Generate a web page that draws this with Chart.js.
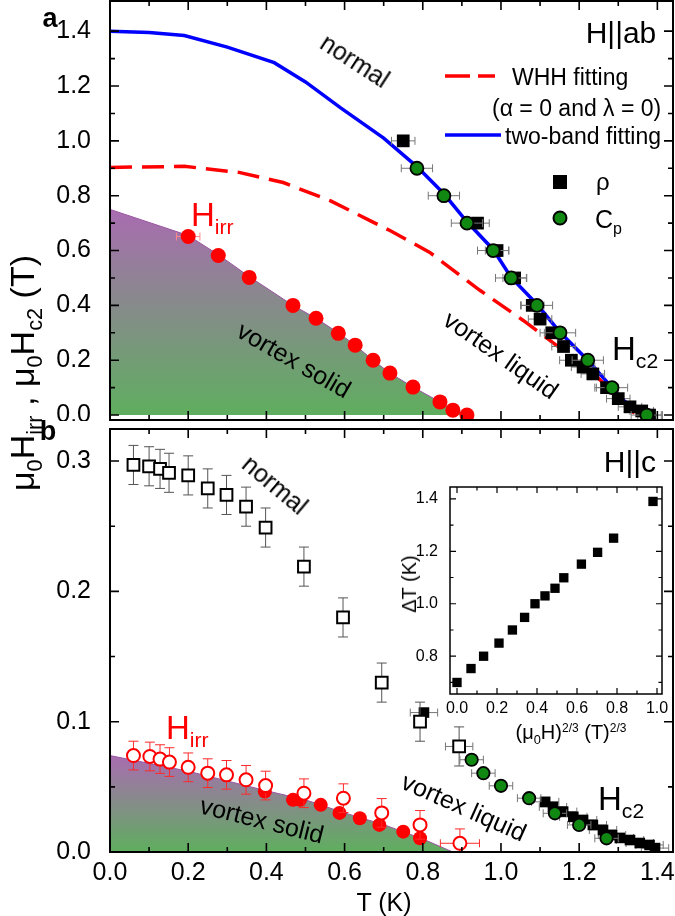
<!DOCTYPE html>
<html>
<head>
<meta charset="utf-8">
<script src="https://cdn.jsdelivr.net/npm/chart.js@4.4.1/dist/chart.umd.min.js"></script>
<style>
  body { margin: 0; background: #fff; }
  #wrap { position: relative; width: 675px; height: 916px; overflow: hidden; font-family: "Liberation Sans", Arial, sans-serif; }
  #wrap canvas { position: absolute; }
  .txt { position: absolute; white-space: nowrap; line-height: 1; }
  .sb { font-size: 0.64em; position: relative; top: 0.38em; }
  .sp { font-size: 0.6em; position: relative; top: -0.62em; }
</style>
</head>
<body>
<div id="wrap">
  <canvas id="chartA" width="675" height="421" style="left:0;top:0;width:675px;height:421px"></canvas>
  <canvas id="chartB" width="675" height="488" style="left:0;top:428px;width:675px;height:488px"></canvas>
  <canvas id="inset" width="295" height="240" style="left:380px;top:480px;width:295px;height:240px"></canvas>
</div>
<script>
// ---- panel a (H || ab) ----
const twoBandT = [0, 0.1, 0.19, 0.3, 0.42, 0.5, 0.59, 0.7, 0.785, 0.854, 0.913, 0.98, 1.026, 1.092, 1.151, 1.222, 1.284, 1.312, 1.338, 1.36, 1.375];
const twoBandH = [1.40, 1.395, 1.384, 1.342, 1.285, 1.215, 1.12, 1.01, 0.906, 0.807, 0.705, 0.604, 0.502, 0.404, 0.302, 0.2, 0.1, 0.055, 0.025, 0.008, 0.0];
const whhT = [0, 0.19, 0.33, 0.443, 0.563, 0.665, 0.716, 0.818, 0.946, 1.057, 1.159, 1.245, 1.338, 1.35];
const whhH = [0.903, 0.907, 0.885, 0.848, 0.782, 0.709, 0.673, 0.593, 0.455, 0.345, 0.236, 0.14, 0.011, 0.0];
const rhoAT = [0.75, 0.94, 0.99, 1.035, 1.08, 1.10, 1.13, 1.16, 1.18, 1.21, 1.235, 1.27, 1.30, 1.33, 1.36, 1.38];
const rhoAH = [1.0, 0.70, 0.60, 0.50, 0.40, 0.35, 0.30, 0.25, 0.20, 0.175, 0.15, 0.10, 0.06, 0.03, 0.015, 0.0];
const cpAT = [0.785, 0.854, 0.913, 0.98, 1.026, 1.092, 1.151, 1.222, 1.284, 1.373];
const cpAH = [0.9, 0.8, 0.7, 0.6, 0.5, 0.4, 0.3, 0.2, 0.1, 0.0];
const irrAT = [0.2, 0.277, 0.356, 0.468, 0.527, 0.584, 0.627, 0.673, 0.716, 0.775, 0.844, 0.877, 0.913];
const irrAH = [0.651, 0.582, 0.502, 0.40, 0.353, 0.298, 0.255, 0.20, 0.153, 0.102, 0.048, 0.018, 0.0];
const irrAErr = [0.03, 0, 0, 0, 0, 0, 0, 0, 0, 0, 0, 0, 0];
const solidAT = [0, 0.2, 0.277, 0.356, 0.468, 0.527, 0.584, 0.627, 0.673, 0.716, 0.775, 0.844, 0.877, 0.92];
const solidAH = [0.75, 0.655, 0.585, 0.505, 0.40, 0.353, 0.30, 0.255, 0.20, 0.153, 0.102, 0.048, 0.018, 0.0];
const rhoAErr = 0.03;
const cpAErr = 0.04;

// ---- panel b (H || c) ----
const hc2BT = [0.06, 0.10, 0.128, 0.151, 0.20, 0.25, 0.298, 0.348, 0.398, 0.496, 0.596, 0.695, 0.793, 0.893];
const hc2BH = [0.297, 0.296, 0.294, 0.291, 0.289, 0.279, 0.274, 0.265, 0.249, 0.219, 0.18, 0.13, 0.10, 0.081];
const hc2BErr = 0.015;
const rhoBT = [0.803, 0.893, 1.113, 1.133, 1.159, 1.185, 1.21, 1.235, 1.261, 1.284, 1.304, 1.33, 1.355, 1.38, 1.394];
const rhoBH = [0.107, 0.081, 0.0385, 0.0346, 0.031, 0.027, 0.0246, 0.0208, 0.0169, 0.013, 0.0108, 0.0092, 0.0069, 0.0054, 0.003];
const rhoBErr = 0.035;
const cpBT = [0.925, 0.955, 1.0, 1.072, 1.138, 1.2, 1.27];
const cpBH = [0.0708, 0.0605, 0.0508, 0.0413, 0.0297, 0.0208, 0.0105];
const cpBErr = 0.03;
const irrOpenBT = [0.06, 0.102, 0.128, 0.152, 0.2, 0.25, 0.298, 0.348, 0.398, 0.496, 0.597, 0.695, 0.793, 0.895];
const irrOpenBH = [0.074, 0.0733, 0.0713, 0.069, 0.065, 0.0605, 0.0592, 0.0554, 0.051, 0.0451, 0.0413, 0.030, 0.0208, 0.0067];
const irrOpenBErrY = 0.011;
const irrOpenBErrX = [0, 0, 0, 0, 0, 0, 0, 0, 0, 0, 0, 0, 0, 0.05];
const irrFillBT = [0.396, 0.468, 0.486, 0.539, 0.587, 0.639, 0.689, 0.75, 0.793];
const irrFillBH = [0.0464, 0.040, 0.040, 0.0362, 0.030, 0.0259, 0.0208, 0.0156, 0.0105];
const solidBT = [0, 0.2, 0.4, 0.5, 0.6, 0.7, 0.8, 0.877];
const solidBH = [0.074, 0.062, 0.047, 0.040, 0.030, 0.021, 0.010, 0.0];

// ---- inset ----
const insetX = [0, 0.07, 0.133, 0.21, 0.277, 0.338, 0.39, 0.44, 0.49, 0.534, 0.622, 0.703, 0.783, 0.98];
const insetY = [0.70, 0.753, 0.80, 0.85, 0.90, 0.948, 1.0, 1.03, 1.059, 1.099, 1.151, 1.196, 1.25, 1.39];

// ---- ticks ----
const tMajor = [0, 0.2, 0.4, 0.6, 0.8, 1.0, 1.2, 1.4];
const tMinor = [0.1, 0.3, 0.5, 0.7, 0.9, 1.1, 1.3];
const aMajor = [0, 0.2, 0.4, 0.6, 0.8, 1.0, 1.2, 1.4];
const aMinor = [0.1, 0.3, 0.5, 0.7, 0.9, 1.1, 1.3];
const bMajor = [0, 0.1, 0.2, 0.3];
const bMinor = [0.05, 0.15, 0.25];
const insXMajor = [0, 0.2, 0.4, 0.6, 0.8, 1.0];
const insXMinor = [0.1, 0.3, 0.5, 0.7, 0.9];
const insYMajor = [0.8, 1.0, 1.2, 1.4];
const insYMinor = [0.7, 0.9, 1.1, 1.3];

const FONT = '"Liberation Sans", Arial, sans-serif';
Chart.defaults.font.family = FONT;
Chart.defaults.color = '#000';

const pts = (xs, ys) => xs.map((x, i) => ({ x, y: ys[i] }));

function phaseFill(topVal) {
  return (c) => {
    const ch = c.chart;
    if (!ch.chartArea) return 'rgba(0,0,0,0)';
    const y = ch.scales.y;
    const g = ch.ctx.createLinearGradient(0, y.getPixelForValue(topVal), 0, y.getPixelForValue(0));
    g.addColorStop(0, '#a96cb1');
    g.addColorStop(1, '#5fae5f');
    return g;
  };
}

function xAxis(major, min, max, height, size, pad) {
  return {
    type: 'linear', position: 'bottom', min, max,
    grid: { display: false }, border: { display: false },
    ticks: { display: size > 0, autoSkip: false, maxRotation: 0, padding: pad, font: { size: size || 10 }, callback: v => v.toFixed(1) },
    afterBuildTicks: s => { s.ticks = major.map(v => ({ value: v })); },
    afterFit: s => { s.height = height; s.paddingLeft = 0; s.paddingRight = 0; s.paddingTop = 0; s.paddingBottom = 0; }
  };
}
function yAxis(major, min, max, width, size, pad) {
  return {
    type: 'linear', position: 'left', min, max,
    grid: { display: false }, border: { display: false },
    ticks: { autoSkip: false, padding: pad, font: { size }, callback: v => v.toFixed(1) },
    afterBuildTicks: s => { s.ticks = major.map(v => ({ value: v })); },
    afterFit: s => { s.width = width; s.paddingLeft = 0; s.paddingRight = 0; s.paddingTop = 0; s.paddingBottom = 0; }
  };
}

const framePlugin = {
  id: 'frame',
  afterDatasetsDraw(chart, args, o) {
    const { ctx, chartArea: a } = chart;
    const xs = chart.scales.x, ys = chart.scales.y;
    ctx.save();
    ctx.strokeStyle = '#000';
    ctx.lineWidth = o.tickWidth;
    ctx.beginPath();
    const vTick = (vals, len) => vals.forEach(v => {
      const px = xs.getPixelForValue(v);
      ctx.moveTo(px, a.bottom); ctx.lineTo(px, a.bottom - len);
      ctx.moveTo(px, a.top); ctx.lineTo(px, a.top + len);
    });
    const hTick = (vals, len) => vals.forEach(v => {
      const py = ys.getPixelForValue(v);
      ctx.moveTo(a.left, py); ctx.lineTo(a.left + len, py);
      ctx.moveTo(a.right, py); ctx.lineTo(a.right - len, py);
    });
    vTick(o.xMajor, o.major); vTick(o.xMinor, o.minor);
    hTick(o.yMajor, o.major); hTick(o.yMinor, o.minor);
    ctx.stroke();
    ctx.lineWidth = o.width;
    ctx.strokeRect(a.left, a.top, a.right - a.left, a.bottom - a.top);
    ctx.restore();
  }
};

const errorBarPlugin = {
  id: 'errorBars',
  beforeDatasetDraw(chart, args) {
    const ds = chart.data.datasets[args.index];
    if (ds.errX === undefined && ds.errY === undefined) return;
    const { ctx, chartArea: a } = chart;
    const xs = chart.scales.x, ys = chart.scales.y;
    const pick = (e, i) => (Array.isArray(e) ? e[i] : (e || 0));
    ctx.save();
    ctx.beginPath(); ctx.rect(a.left, a.top, a.right - a.left, a.bottom - a.top); ctx.clip();
    ctx.strokeStyle = ds.errColor || '#666';
    ctx.lineWidth = 1;
    ctx.beginPath();
    ds.data.forEach((p, i) => {
      const px = xs.getPixelForValue(p.x), py = ys.getPixelForValue(p.y);
      const ex = pick(ds.errX, i), ey = pick(ds.errY, i);
      if (ex) {
        const l = xs.getPixelForValue(p.x - ex), r = xs.getPixelForValue(p.x + ex);
        ctx.moveTo(l, py); ctx.lineTo(r, py);
        ctx.moveTo(l, py - 4); ctx.lineTo(l, py + 4);
        ctx.moveTo(r, py - 4); ctx.lineTo(r, py + 4);
      }
      if (ey) {
        const t = ys.getPixelForValue(p.y + ey), b = ys.getPixelForValue(p.y - ey);
        ctx.moveTo(px, t); ctx.lineTo(px, b);
        ctx.moveTo(px - 5, t); ctx.lineTo(px + 5, t);
        ctx.moveTo(px - 5, b); ctx.lineTo(px + 5, b);
      }
    });
    ctx.stroke();
    ctx.restore();
  }
};

// legend symbols of panel a (layout positions in canvas pixels)
const legendAPlugin = {
  id: 'legendA',
  afterDraw(chart) {
    const c = chart.ctx;
    c.save();
    c.lineWidth = 3.5;
    c.strokeStyle = '#ff0000';
    c.setLineDash([25, 8]);
    c.beginPath(); c.moveTo(445, 76); c.lineTo(495, 76); c.stroke();
    c.setLineDash([]);
    c.strokeStyle = '#0000ff';
    c.beginPath(); c.moveTo(445, 135); c.lineTo(501, 135); c.stroke();
    c.fillStyle = '#000';
    c.fillRect(553, 175, 14, 14);
    c.beginPath(); c.arc(560, 218, 6.5, 0, Math.PI * 2);
    c.fillStyle = '#118811'; c.fill();
    c.lineWidth = 2; c.strokeStyle = '#000'; c.stroke();
    c.restore();
  }
};

const insetBgPlugin = {
  id: 'insetBg',
  beforeDraw(chart) {
    const { ctx, chartArea: a } = chart;
    ctx.save(); ctx.fillStyle = '#fff';
    ctx.fillRect(a.left, a.top, a.right - a.left, a.bottom - a.top);
    ctx.restore();
  }
};

const common = { responsive: false, animation: false, events: [] };

new Chart(document.getElementById('chartA'), {
  type: 'scatter',
  data: {
    datasets: [
      { data: pts(solidAT, solidAH), showLine: true, fill: 'origin', backgroundColor: phaseFill(solidAH[0]), borderColor: '#9a55a0', borderWidth: 1, pointRadius: 0, order: 10 },
      { data: pts(whhT, whhH), showLine: true, fill: false, borderColor: '#ff0000', borderWidth: 3.5, borderDash: [22, 10], pointRadius: 0, order: 8 },
      { data: pts(twoBandT, twoBandH), showLine: true, fill: false, borderColor: '#0000ff', borderWidth: 3.5, pointRadius: 0, order: 7 },
      { data: pts(irrAT, irrAH), pointStyle: 'circle', pointRadius: 7.5, backgroundColor: '#ff0000', borderWidth: 0, errX: irrAErr, errColor: '#ff8a8a', order: 4 },
      { data: pts(rhoAT, rhoAH), pointStyle: 'rect', pointRadius: 9, backgroundColor: '#000', borderWidth: 0, errX: rhoAErr, errColor: '#777', order: 3 },
      { data: pts(cpAT, cpAH), pointStyle: 'circle', pointRadius: 6.5, backgroundColor: '#118811', borderColor: '#000', borderWidth: 1.8, errX: cpAErr, errColor: '#777', order: 2 }
    ]
  },
  options: {
    ...common,
    layout: { autoPadding: false, padding: { top: 1, right: 2, bottom: 1, left: 0 } },
    scales: { x: xAxis(tMajor, 0, 1.44, 0, 0, 0), y: yAxis(aMajor, -0.018, 1.51, 110, 25, 11) },
    plugins: {
      legend: { display: false }, tooltip: { enabled: false },
      frame: { xMajor: tMajor, xMinor: tMinor, yMajor: aMajor, yMinor: aMinor, major: 9, minor: 5, width: 2, tickWidth: 1.6 }
    }
  },
  plugins: [errorBarPlugin, framePlugin, legendAPlugin]
});

new Chart(document.getElementById('chartB'), {
  type: 'scatter',
  data: {
    datasets: [
      { data: pts(solidBT, solidBH), showLine: true, fill: 'origin', backgroundColor: phaseFill(solidBH[0]), borderColor: '#9a55a0', borderWidth: 1, pointRadius: 0, order: 10 },
      { data: pts(rhoBT, rhoBH), pointStyle: 'rect', pointRadius: 7.5, backgroundColor: '#000', borderWidth: 0, errX: rhoBErr, errColor: '#777', order: 6 },
      { data: pts(hc2BT, hc2BH), pointStyle: 'rect', pointRadius: 8.3, backgroundColor: '#fff', borderColor: '#000', borderWidth: 2, errY: hc2BErr, errColor: '#555', order: 5 },
      { data: pts(irrFillBT, irrFillBH), pointStyle: 'circle', pointRadius: 7, backgroundColor: '#ff0000', borderWidth: 0, order: 4 },
      { data: pts(irrOpenBT, irrOpenBH), pointStyle: 'circle', pointRadius: 6.5, backgroundColor: '#fff', borderColor: '#ff0000', borderWidth: 2, errX: irrOpenBErrX, errY: irrOpenBErrY, errColor: '#ff2a2a', order: 3 },
      { data: pts(cpBT, cpBH), pointStyle: 'circle', pointRadius: 6.2, backgroundColor: '#118811', borderColor: '#000', borderWidth: 1.8, errX: cpBErr, errColor: '#777', order: 2 }
    ]
  },
  options: {
    ...common,
    layout: { autoPadding: false, padding: { top: 1, right: 2, bottom: 0, left: 0 } },
    scales: { x: xAxis(tMajor, 0, 1.44, 64, 25, -2), y: yAxis(bMajor, 0, 0.3246, 110, 25, 11) },
    plugins: {
      legend: { display: false }, tooltip: { enabled: false },
      frame: { xMajor: tMajor, xMinor: tMinor, yMajor: bMajor, yMinor: bMinor, major: 9, minor: 5, width: 2, tickWidth: 1.6 }
    }
  },
  plugins: [errorBarPlugin, framePlugin]
});

new Chart(document.getElementById('inset'), {
  type: 'scatter',
  data: {
    datasets: [
      { data: pts(insetX, insetY), pointStyle: 'rect', pointRadius: 6.6, backgroundColor: '#000', borderWidth: 0 }
    ]
  },
  options: {
    ...common,
    layout: { autoPadding: false, padding: { top: 7, right: 13, bottom: 0, left: 0 } },
    scales: { x: xAxis(insXMajor, -0.035, 1.025, 26, 16, -3), y: yAxis(insYMajor, 0.656, 1.445, 70, 16, 4) },
    plugins: {
      legend: { display: false }, tooltip: { enabled: false },
      frame: { xMajor: insXMajor, xMinor: insXMinor, yMajor: insYMajor, yMinor: insYMinor, major: 6, minor: 3.5, width: 1.5, tickWidth: 1.2 }
    }
  },
  plugins: [insetBgPlugin, framePlugin]
});

// ---- text ----
const wrap = document.getElementById('wrap');
function addText(html, x, y, o = {}) {
  const d = document.createElement('div');
  d.className = 'txt';
  d.innerHTML = html;
  d.style.left = x + 'px';
  d.style.top = y + 'px';
  d.style.fontSize = (o.size || 24) + 'px';
  d.style.color = o.color || '#000';
  if (o.bold) d.style.fontWeight = 'bold';
  const ax = o.left ? '0' : '-50%';
  d.style.transform = `translate(${ax},-50%) rotate(${o.rot || 0}deg)`;
  wrap.appendChild(d);
}
const RED = '#ff0000';
addText('a', 50, 18, { size: 27, bold: true });
addText('b', 48, 431, { size: 27, bold: true });
addText('μ<span class="sb">0</span>H<span class="sb">irr</span> , μ<span class="sb">0</span>H<span class="sb">c2</span> (T)', 22, 373, { size: 34, rot: -90 });
addText('T (K)', 384, 902, { size: 25 });

addText('H||ab', 621, 33, { size: 30 });
addText('WHH fitting', 512, 77, { size: 23, left: true });
addText('(α = 0 and λ = 0)', 492, 108, { size: 23, left: true });
addText('two-band fitting', 505, 136, { size: 23, left: true });
addText('ρ', 596, 182, { size: 24, left: true });
addText('C<span class="sb">p</span>', 595, 219, { size: 25, left: true });
addText('normal', 355, 61, { size: 25, rot: 33 });
addText('vortex liquid', 501, 355, { size: 25, rot: 35 });
addText('vortex solid', 294, 360, { size: 25, rot: 30 });
addText('H<span class="sb">irr</span>', 191, 214, { size: 33, color: RED, left: true });
addText('H<span class="sb">c2</span>', 612, 348, { size: 33, left: true });

addText('H||c', 630, 462, { size: 30 });
addText('normal', 275, 485, { size: 25, rot: 40 });
addText('H<span class="sb">irr</span>', 166, 727, { size: 33, color: RED, left: true });
addText('vortex solid', 262, 820, { size: 25, rot: 14 });
addText('vortex liquid', 464, 807, { size: 25, rot: 24 });
addText('H<span class="sb">c2</span>', 598, 798, { size: 33, left: true });

addText('ΔT (K)', 409, 584, { size: 20, rot: -90 });
addText('(μ<span class="sb">0</span>H)<span class="sp">2/3</span> (T)<span class="sp">2/3</span>', 571, 732, { size: 20 });
</script>
</body>
</html>
